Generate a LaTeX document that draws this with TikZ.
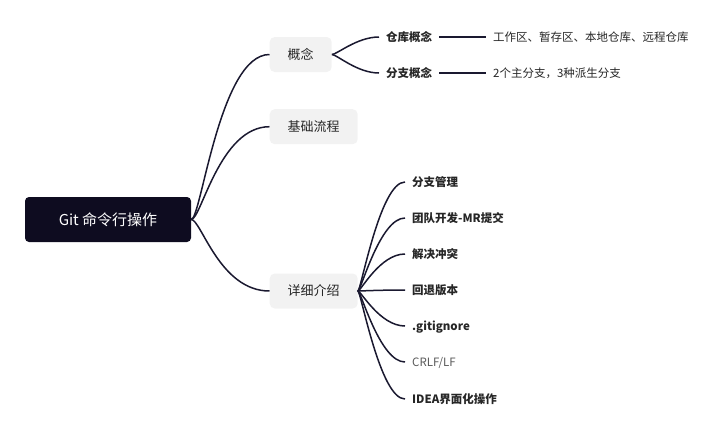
\documentclass[tikz,border=0pt]{standalone}
\usepackage{fontspec}
\setmainfont{Noto Sans CJK SC}
\usepackage{xcolor}
\usetikzlibrary{calc}

\definecolor{rootnavy}{HTML}{0E0C20}
\definecolor{linknavy}{HTML}{1A1930}
\definecolor{topicgray}{HTML}{F2F2F2}
\definecolor{textdark}{HTML}{262626}
\definecolor{textgray}{HTML}{595959}

\begin{document}
\begin{tikzpicture}[x=1pt, y=-1pt,
  root/.style={rectangle, fill=rootnavy, rounded corners=4pt, minimum width=166pt, minimum height=45pt, text=white, font=\fontsize{15}{18}\selectfont},
  topic/.style={rectangle, fill=topicgray, rounded corners=5pt, minimum height=35pt, inner xsep=18pt, anchor=west, text=textdark, text height=11pt, text depth=2pt, font=\fontsize{13}{16}\selectfont},
  leaf/.style={anchor=west, inner xsep=7pt, inner ysep=1pt, text=textdark, text height=10pt, text depth=1.5pt, font=\fontsize{11.5}{14}\selectfont\bfseries},
  note/.style={leaf, font=\fontsize{11.5}{14}\selectfont},
  link/.style={draw=linknavy, line width=1.5pt},
  branch/.style 2 args={link, to path={.. controls ($(\tikztostart)+(#1,0)$) and ($(\tikztotarget)+(-#2,0)$) .. (\tikztotarget)}}
]
\useasboundingbox (0,0) rectangle (720,437);

\node[root] (git) at (108,219.5) {Git 命令行操作};

\node[topic] (concept) at (269.5,54.5)  {概念};
\node[topic] (basic)   at (269.5,126.7) {基础流程};
\node[topic] (detail)  at (269.5,291)   {详细介绍};

% 概念
\node[leaf] (repo)       at (379,37)  {仓库概念};
\node[leaf] (branchc)    at (379,73)  {分支概念};
\node[note] (repodesc)   at (486,37)  {工作区、暂存区、本地仓库、远程仓库};
\node[note] (branchdesc) at (486,73)  {2个主分支，3种派生分支};

% 详细介绍
\node[leaf] (mgmt)   at (405,182) {分支管理};
\node[leaf] (mr)     at (405,218) {团队开发-MR提交};
\node[leaf] (merge)  at (405,254) {解决冲突};
\node[leaf] (reset)  at (405,290) {回退版本};
\node[leaf] (ignore) at (405,326) {.gitignore};
\node[note, text=textgray] (crlf) at (405,362) {CRLF/LF};
\node[leaf] (idea)   at (405,399) {IDEA界面化操作};

% Root branches
\draw[branch={10}{50}] (git.east) to (concept.west);
\draw[branch={10}{50}] (git.east) to (basic.west);
\draw[branch={10}{50}] (git.east) to (detail.west);

\draw[branch={5}{22}] (concept.east) to (repo.west);
\draw[branch={5}{22}] (concept.east) to (branchc.west);
\draw[link] (repo.east)    -- (repodesc.west);
\draw[link] (branchc.east) -- (branchdesc.west);

\foreach \leafname in {mgmt, mr, merge, reset, ignore, crlf, idea}
  \draw[branch={3}{25}] (detail.east) to (\leafname.west);

\end{tikzpicture}
\end{document}
